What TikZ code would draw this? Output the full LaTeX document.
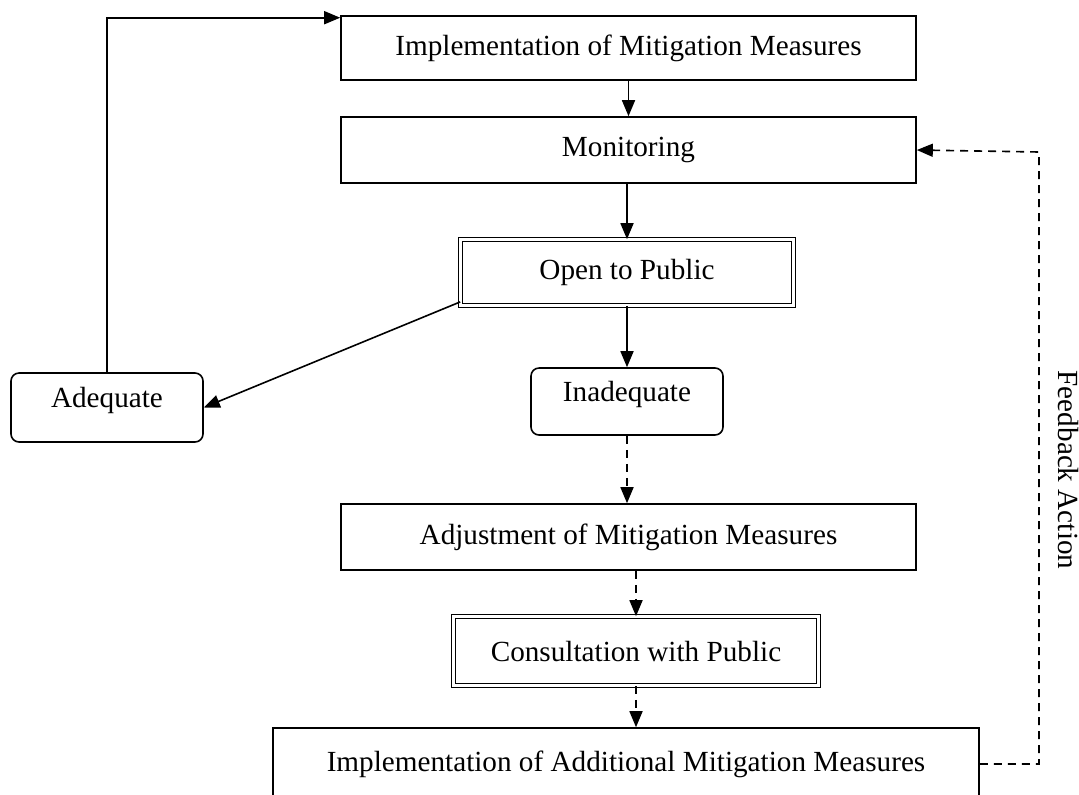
\documentclass[tikz,border=0pt]{standalone}
\usepackage{fontspec}
\setmainfont{Liberation Serif}
\usetikzlibrary{arrows.meta}

\begin{document}
\begin{tikzpicture}[x=0.5pt,y=-0.5pt,
		box/.style={draw=black,line width=0.8pt,inner sep=0pt,minimum width=287.5pt,minimum height=33pt},
		dbox/.style={draw=black,double,double distance=1.4pt,line width=0.6pt,inner sep=0pt},
		rbox/.style={draw=black,line width=0.8pt,rounded corners=4pt,inner sep=0pt,minimum width=96pt,text height=0.7em,text depth=0.7em},
		arr/.style={-{Triangle[length=8pt,width=6.5pt]},line width=0.8pt},
		darr/.style={arr,dash pattern=on 4pt off 3pt},
		font=\fontsize{14.6}{17}\selectfont
	]
		\useasboundingbox (0,0) rectangle (1079,794);
		\clip (0,0) rectangle (1079,794);
		\node[box,minimum height=32pt] (impl) at (628.5,48) {Implementation of Mitigation Measures};
		\node[box] (mon) at (628.5,150) {Monitoring};
		\node[dbox,minimum width=166.2pt,minimum height=32.7pt] (open) at (627,272.5) {Open to Public};
		\node[rbox,minimum height=34.5pt] (adq) at (107,407.5) {Adequate};
		\node[rbox,minimum height=33.5pt] (inadq) at (627,401.5) {Inadequate};
		\node[box] (adj) at (628.5,537) {Adjustment of Mitigation Measures};
		\node[dbox,minimum width=182.2pt,minimum height=34.2pt] (cons) at (636,651) {Consultation with Public};
		\node[box,minimum width=353pt,minimum height=36pt] (addl) at (626,764) {Implementation of Additional Mitigation Measures};
		\node[rotate=-90] (fbtxt) at (1068,470) {Feedback Action};
		\coordinate (fbk) at (1039,152);
		% solid flow
		\draw[arr] (impl.south) -- (mon.north);
		\draw[arr] (mon.south -| open.north) -- (open.north);
		\draw[arr] (open.south) -- (inadq.north);
		\draw[arr] (open.190) -- (adq.east);
		\draw[arr] (adq.north) |- (impl.174);
		% dashed flow
		\draw[darr] (inadq.south) -- (inadq.south |- adj.north);
		\draw[darr] (adj.south -| cons.north) -- (cons.north);
		\draw[darr] (cons.south) -- (cons.south |- addl.north);
		\draw[darr] (addl.east) -| (fbk) -- (mon.east);
	\end{tikzpicture}
\end{document}
